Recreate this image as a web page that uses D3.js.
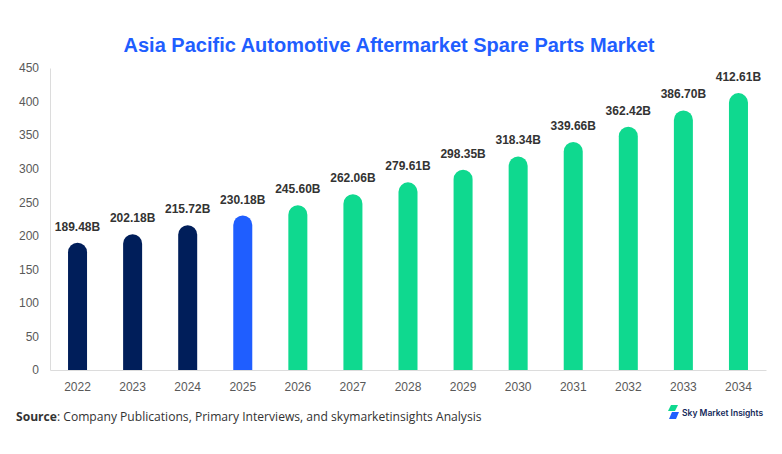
<!DOCTYPE html>
<html>
<head>
<meta charset="utf-8">
<script src="https://cdn.jsdelivr.net/npm/d3@7"></script>
<style>
  body { margin: 0; background: #fff; }
  svg { display: block; }
</style>
</head>
<body>
<div id="chart"></div>
<script>
// Chart data
const years = ["2022", "2023", "2024", "2025", "2026", "2027", "2028", "2029", "2030", "2031", "2032", "2033", "2034"];
const values = [189.48, 202.18, 215.72, 230.18, 245.60, 262.06, 279.61, 298.35, 318.34, 339.66, 362.42, 386.70, 412.61];
const yTicks = [0, 50, 100, 150, 200, 250, 300, 350, 400, 450];

const histColour = "#001e5a";
const baseColour = "#1f5eff";
const forecastColour = "#0fd98f";

const width = 782;
const height = 454;
const margin = { top: 68, right: 16, bottom: 84, left: 50 };
const innerW = width - margin.left - margin.right;
const innerH = height - margin.top - margin.bottom;

const svg = d3.select("#chart")
  .append("svg")
  .attr("width", width)
  .attr("height", height);

// Title
svg.append("text")
  .attr("x", 389)
  .attr("y", 52)
  .attr("text-anchor", "middle")
  .style("font-family", "Liberation Sans, Arial, sans-serif")
  .style("font-weight", "bold")
  .style("font-size", "20px")
  .attr("fill", baseColour)
  .text("Asia Pacific Automotive Aftermarket Spare Parts Market");

const chart = svg.append("g")
  .attr("transform", `translate(${margin.left},${margin.top})`);

const xScale = d3.scaleBand().domain(years).range([0, innerW])
  .paddingInner(0.655)
  .paddingOuter(0.3275);
const yScale = d3.scaleLinear().domain([0, 450]).range([innerH, 0]);

// Axes
const yAxis = d3.axisLeft(yScale).tickValues(yTicks).tickSize(0).tickPadding(11);
const xAxis = d3.axisBottom(xScale).tickSize(0).tickPadding(12);

const yAxisGroup = chart.append("g").call(yAxis);
const xAxisGroup = chart.append("g").attr("transform", `translate(0,${innerH})`).call(xAxis);

[yAxisGroup, xAxisGroup].forEach(g => {
  g.select(".domain").attr("stroke", "#dcdcdc");
  g.selectAll("text")
    .style("font-family", "Liberation Sans, Arial, sans-serif")
    .style("font-size", "12px")
    .attr("fill", "#595959");
});

// Bars: rounded top, flat bottom
const barColour = (d, i) => i < 3 ? histColour : (i === 3 ? baseColour : forecastColour);
const barPath = (d) => {
  const x = xScale(d.year);
  const w = xScale.bandwidth();
  const r = w / 2;
  const y = yScale(d.value);
  const y0 = yScale(0);
  return `M${x},${y0} V${y + r} A${r},${r} 0 0 1 ${x + w},${y + r} V${y0} Z`;
};

const data = years.map((year, i) => ({ year, value: values[i] }));

chart.selectAll(".bar")
  .data(data)
  .join("path")
  .attr("class", "bar")
  .attr("d", barPath)
  .attr("fill", barColour);

// Value labels
chart.selectAll(".bar-label")
  .data(data)
  .join("text")
  .attr("class", "bar-label")
  .attr("x", d => xScale(d.year) + xScale.bandwidth() / 2)
  .attr("y", d => yScale(d.value) - 12)
  .attr("text-anchor", "middle")
  .style("font-family", "Liberation Sans, Arial, sans-serif")
  .style("font-weight", "bold")
  .style("font-size", "12px")
  .attr("fill", "#333")
  .text(d => d.value.toFixed(2) + "B");

// Source note
const source = svg.append("text")
  .attr("x", 16)
  .attr("y", 421)
  .style("font-family", "Open Sans, Noto Sans, sans-serif")
  .style("font-size", "12.1px")
  .attr("fill", "#333");
source.append("tspan").style("font-weight", "bold").text("Source");
source.append("tspan").text(": Company Publications, Primary Interviews, and skymarketinsights Analysis");

// Logo
const logo = svg.append("g").attr("transform", "translate(668,412)");
logo.append("path").attr("d", "M3,-7 L10,-7 L7,-1 L0,-1 Z").attr("fill", forecastColour);
logo.append("path").attr("d", "M4,0 L11,0 L8,7 L1,7 Z").attr("fill", baseColour);
logo.append("text")
  .attr("x", 14)
  .attr("y", 4)
  .style("font-family", "Inter, Noto Sans, sans-serif")
  .style("font-weight", "600")
  .style("font-size", "8.5px")
  .attr("fill", "#14285a")
  .text("Sky Market Insights");
</script>
</body>
</html>
